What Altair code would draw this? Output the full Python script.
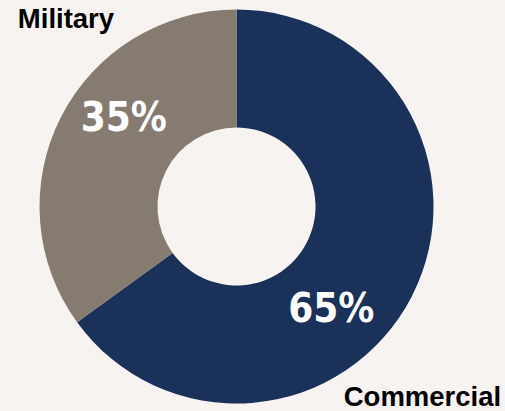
import altair as alt
import pandas as pd

categories = ["Commercial", "Military"]
shares = [65, 35]
pct_labels = ["65%", "35%"]
colors = ["#1a3159", "#857b71"]
order = [0, 1]

df = pd.DataFrame({"category": categories, "share": shares, "label": pct_labels, "order": order})

TAU = 6.283185307179586
theta_scale = alt.Scale(domain=[0, 100], range=[0, TAU])

base = alt.Chart(df)

arc = base.mark_arc(outerRadius=197, innerRadius=79).encode(
    theta=alt.Theta("share:Q", stack=True, scale=theta_scale),
    color=alt.Color("category:N", scale=alt.Scale(domain=categories, range=colors), legend=None),
    order=alt.Order("order:Q"),
)

tb = base.transform_window(
    cum="sum(share)", sort=[alt.SortField("order")], frame=[None, 0]
).transform_calculate(mid="datum.cum - datum.share / 2")

pct_font = "Liberation Sans Narrow, DejaVu Sans Condensed, sans-serif"
lab_font = "Liberation Sans, Arial, sans-serif"


def txt(cat, field, radius, dx, dy, font, size, color, align):
    return tb.transform_filter(alt.datum.category == cat).mark_text(
        radius=radius, dx=dx, dy=dy, font=font, fontSize=size, fontWeight="bold",
        color=color, align=align, baseline="alphabetic",
    ).encode(
        theta=alt.Theta("mid:Q", stack=False, scale=theta_scale),
        text=alt.Text(field),
    )


mil_pct = txt("Military", "label:N", 140, 12, -12, pct_font, 40, "white", "center")
com_pct = txt("Commercial", "label:N", 140, -30, 52, pct_font, 40, "white", "center")
mil_lab = txt("Military", "category:N", 260, 13, -60.5, lab_font, 27.5, "black", "left")
com_lab = txt("Commercial", "category:N", 260, 33, 81, lab_font, 27.5, "black", "right")

chart = alt.layer(arc, mil_pct, com_pct, mil_lab, com_lab).properties(
    width=473, height=411,
    padding={"left": 0, "top": 1, "right": 32, "bottom": 0},
    autosize=alt.AutoSizeParams(type="none"),
    background="#f7f3f0",
).configure_view(stroke=None)

chart.save("out.html", embed_options={"renderer": "svg", "actions": False})
